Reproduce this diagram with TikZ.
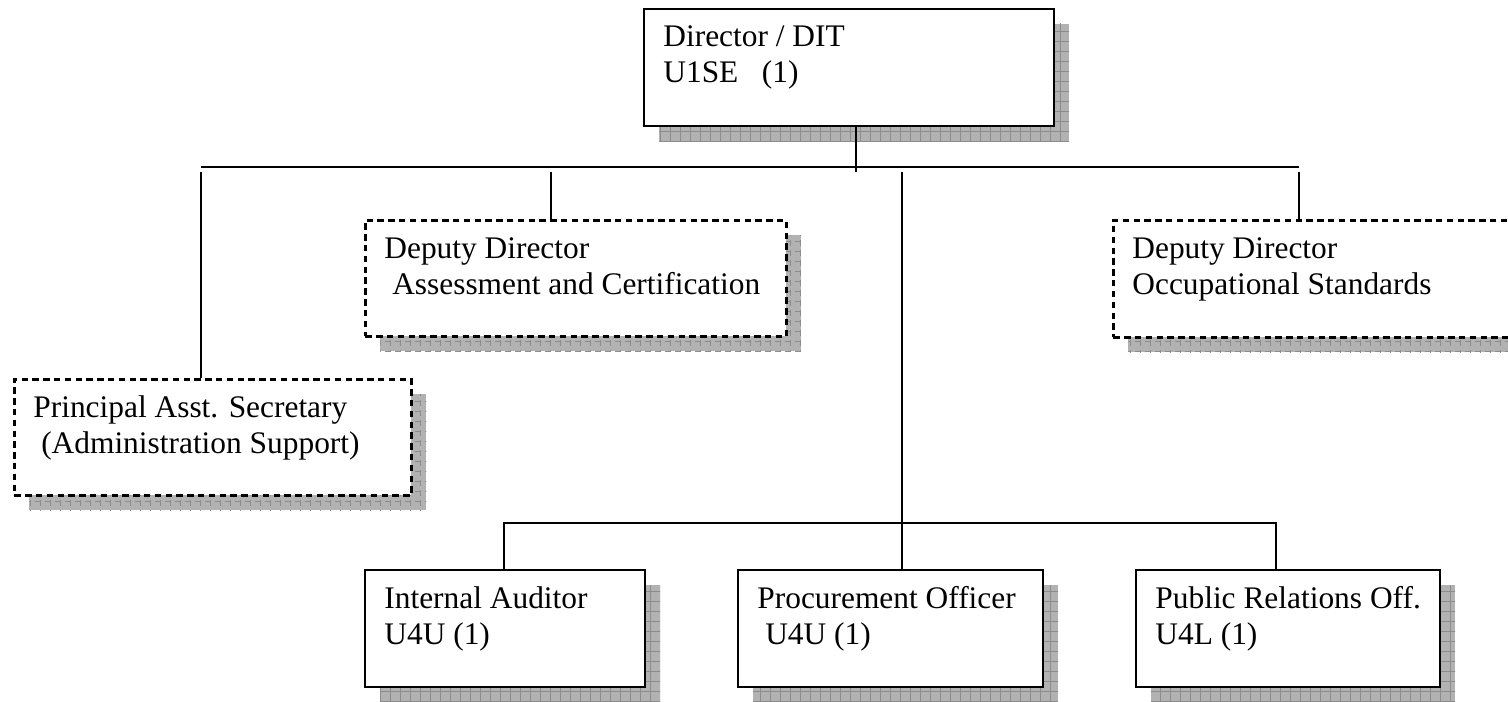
\documentclass[tikz,border=0pt]{standalone}
\usepackage{fontspec}
\setmainfont{Liberation Serif}
\usepackage{tikz}
\usetikzlibrary{shadows, patterns.meta, positioning}

\begin{document}
\begin{tikzpicture}[
  x=0.5pt, y=-0.5pt,
  orgbox/.style={draw, line width=1pt, fill=white, anchor=north west, inner sep=0pt,
    drop shadow={shadow xshift=7.5pt, shadow yshift=-7.5pt, fill=gray!60, opacity=1,
      postaction={pattern={Lines[distance=5pt, angle=0, line width=0.4pt]}, pattern color=gray!90},
      postaction={pattern={Lines[distance=5pt, angle=90, line width=0.4pt]}, pattern color=gray!90}}},
  dashbox/.style={orgbox, line width=1.3pt, dash pattern=on 3.2pt off 2.2pt},
  boxtext/.style={anchor=base west, align=left, inner sep=0pt},
  link/.style={line width=0.9pt},
  font=\fontsize{15.7}{18}\selectfont
]
\useasboundingbox (0,0) rectangle (1508,701);

% Top: director
\node[orgbox, minimum width=205pt, minimum height=58.5pt] (dir) at (643,8) {};
\node[boxtext] (dir-txt) at ([shift={(10pt,-37.5pt)}]dir.north west) {Director / DIT\\U1SE\ \ \ (1)};

% Middle row: deputies and admin
\node[dashbox, minimum width=210.5pt, minimum height=58pt] (ac) at (364,219) {};
\node[boxtext] (ac-txt) at ([shift={(10pt,-37.5pt)}]ac.north west) {Deputy Director\\\ Assessment and Certification};

\node[dashbox, minimum width=215pt, minimum height=58.5pt] (os) at (1112,219) {};
\node[boxtext] (os-txt) at ([shift={(10pt,-37.5pt)}]os.north west) {Deputy Director\\Occupational Standards};

\node[dashbox, minimum width=198.5pt, minimum height=58pt] (pas) at (13,378) {};
\node[boxtext] (pas-txt) at ([shift={(10pt,-37.5pt)}]pas.north west) {Principal Asst. Secretary\\\ (Administration Support)};

% Bottom row: officers
\node[orgbox, minimum width=140pt, minimum height=58.5pt] (ia) at (364,569) {};
\node[boxtext] (ia-txt) at ([shift={(10pt,-37.5pt)}]ia.north west) {Internal Auditor\\U4U (1)};

\node[orgbox, minimum width=152.5pt, minimum height=58.5pt] (po) at (737,569) {};
\node[boxtext] (po-txt) at ([shift={(10pt,-37.5pt)}]po.north west) {Procurement Officer\\\ U4U (1)};

\node[orgbox, minimum width=152pt, minimum height=58.5pt] (pr) at (1135,569) {};
\node[boxtext] (pr-txt) at ([shift={(10pt,-37.5pt)}]pr.north west) {Public Relations Off.\\U4L (1)};

% Connectors
\coordinate (topbus west) at (201,167);
\coordinate (topbus east) at (1299,167);
\coordinate (ac top) at (551,172);
\coordinate (mid top) at (902,172);
\coordinate (lowbus west) at (504,523);
\coordinate (lowbus east) at (1276,523);

\draw[link] (topbus west) -- (topbus east);
\draw[link] ([xshift=3.5pt]dir.south) -- ([xshift=3.5pt,yshift=-2.5pt]dir.south |- topbus west);
\draw[link] ([yshift=-2.5pt]topbus west) -- (topbus west |- pas.north);
\draw[link] (ac top) -- (ac top |- ac.north);
\draw[link] ([yshift=-2.5pt]topbus east) -- (topbus east |- os.north);
\draw[link] (mid top) -- (mid top |- po.north);
\draw[link] (lowbus west |- ia.north) -- (lowbus west) -- (lowbus east) -- (lowbus east |- pr.north);

\end{tikzpicture}
\end{document}
